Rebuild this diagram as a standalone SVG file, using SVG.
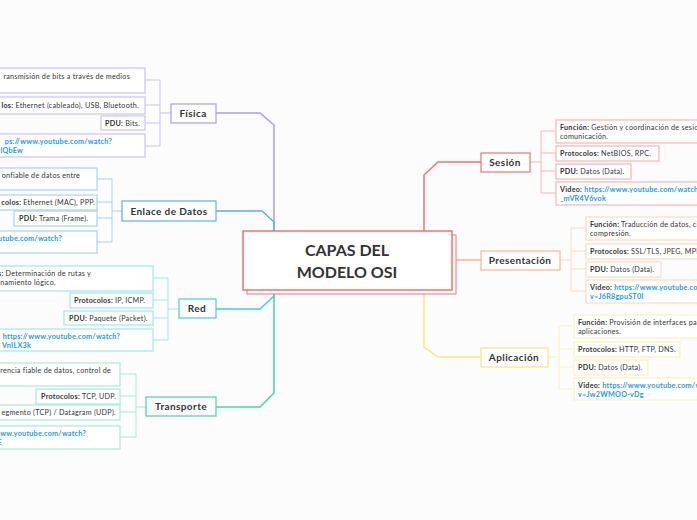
<svg xmlns="http://www.w3.org/2000/svg" width="697" height="520" viewBox="0 0 697 520">
<style>
text{font-family:Lato,"Open Sans",sans-serif;fill:#333}
.t{font-size:10px;font-weight:bold;letter-spacing:0.4px}
.l{font-size:7.2px;letter-spacing:0.25px}
.e{text-anchor:end}
.b{font-weight:bold}
.u{fill:#1a9ae0;font-weight:bold}
.box{fill:#fff;stroke-width:1.2}
.c{fill:none;stroke-width:1.5}
.lc{fill:none;stroke-width:1}
</style>
<rect width="697" height="520" fill="#fcfcfc"/>
<g id="connectors">
<path class="c" stroke="#a89cf5" d="M274,231V125L260,113H216"/>
<path class="c" stroke="#5aaef0" d="M274,231V222L262,211H216"/>
<path class="c" stroke="#3dcfdc" d="M274,290V296L260,309H216"/>
<path class="c" stroke="#3ed6a6" d="M274,290V393L260,407H216"/>
<path class="c" stroke="#f47070" d="M424,231V175L438,162H481"/>
<path class="c" stroke="#fbb58a" d="M452,260H481"/>
<path class="c" stroke="#f8e77a" d="M424,290V347L438,357H481"/>
<path class="lc" stroke="#c9c2fa" d="M171,113H160M160,80V146M145,80H160M145,105H160M145,123H160M145,146H160"/>
<path class="lc" stroke="#a6d2f7" d="M122,211H112M112,179V242M97,179H112M97,202H112M97,218H112M97,242H112"/>
<path class="lc" stroke="#9fe8ee" d="M179,309H168M168,278V340M153,278H168M153,300H168M153,318H168M153,340H168"/>
<path class="lc" stroke="#a5ecd4" d="M146,407H136M136,374V437M120,374H136M120,396H136M120,412H136M120,437H136"/>
<path class="lc" stroke="#f9b4b4" d="M530,162H541M541,131V193M541,131H556M541,153H556M541,171H556M541,193H556"/>
<path class="lc" stroke="#fcd9c2" d="M560,260H571M571,228V291M571,228H586M571,251H586M571,269H586M571,291H586"/>
<path class="lc" stroke="#fbf2b8" d="M548,357H559M559,326V389M559,326H574M559,349H574M559,367H574M559,389H574"/>
</g>
<g id="center">
<rect x="247" y="235" width="209" height="59" fill="#fff" stroke="#f47070" stroke-width="1"/>
<rect x="243" y="231" width="209" height="59" fill="#fff" stroke="#f47070" stroke-width="1.5"/>
<text x="347" y="256" text-anchor="middle" style="font-size:16px;font-weight:bold">CAPAS DEL</text>
<text x="347" y="278" text-anchor="middle" style="font-size:16px;font-weight:bold">MODELO OSI</text>
</g>
<g id="fisica">
<rect class="box" stroke="#a89cf5" x="171" y="104" width="45" height="19"/>
<text class="t" x="193" y="117" text-anchor="middle">Física</text>
<rect class="box" stroke="#c9c2fa" x="-5" y="68" width="150" height="25"/>
<text class="l e" x="130" y="79">ransmisión de bits a través de medios</text>
<rect class="box" stroke="#c9c2fa" x="-5" y="97" width="150" height="17"/>
<text class="l e" x="139" y="108"><tspan class="b">los:</tspan> Ethernet (cableado), USB, Bluetooth.</text>
<rect class="box" stroke="#c9c2fa" x="101" y="116" width="44" height="14"/>
<text class="l" x="105" y="126"><tspan class="b">PDU:</tspan> Bits.</text>
<rect class="box" stroke="#c9c2fa" x="-5" y="134" width="150" height="23"/>
<text class="l u e" x="112" y="144">ps://www.youtube.com/watch?</text>
<text class="l u e" x="23" y="153">lQbEw</text>
</g>
<g id="enlace">
<rect class="box" stroke="#5aaef0" x="122" y="201" width="94" height="20"/>
<text class="t" x="169" y="215" text-anchor="middle">Enlace de Datos</text>
<rect class="box" stroke="#a6d2f7" x="-5" y="168" width="102" height="22"/>
<text class="l e" x="80" y="178">onfiable de datos entre</text>
<rect class="box" stroke="#a6d2f7" x="-5" y="195" width="102" height="15"/>
<text class="l e" x="95" y="205"><tspan class="b">colos:</tspan> Ethernet (MAC), PPP.</text>
<rect class="box" stroke="#a6d2f7" x="14" y="211" width="83" height="15"/>
<text class="l" x="19" y="221"><tspan class="b">PDU:</tspan> Trama (Frame).</text>
<rect class="box" stroke="#a6d2f7" x="-5" y="231" width="102" height="22"/>
<text class="l u e" x="62" y="241">utube.com/watch?</text>
</g>
<g id="red">
<rect class="box" stroke="#3dcfdc" x="179" y="299" width="37" height="19"/>
<text class="t" x="197" y="312" text-anchor="middle">Red</text>
<rect class="box" stroke="#9fe8ee" x="-5" y="266" width="158" height="25"/>
<text class="l e" x="91" y="276"><tspan class="b">s:</tspan> Determinación de rutas y</text>
<text class="l e" x="56" y="285">namiento lógico.</text>
<rect class="box" stroke="#9fe8ee" x="70" y="293" width="83" height="15"/>
<text class="l" x="74" y="303"><tspan class="b">Protocolos:</tspan> IP, ICMP.</text>
<rect class="box" stroke="#9fe8ee" x="64" y="311" width="89" height="14"/>
<text class="l" x="69" y="321"><tspan class="b">PDU:</tspan> Paquete (Packet).</text>
<rect class="box" stroke="#9fe8ee" x="-5" y="329" width="158" height="22"/>
<text class="l u e" x="120" y="339">https://www.youtube.com/watch?</text>
<text class="l u e" x="31" y="348">VnILX3k</text>
</g>
<g id="transporte">
<rect class="box" stroke="#3ed6a6" x="146" y="397" width="70" height="19"/>
<text class="t" x="181" y="410" text-anchor="middle">Transporte</text>
<rect class="box" stroke="#a5ecd4" x="-5" y="363" width="125" height="23"/>
<text class="l e" x="111" y="373">rencia fiable de datos, control de</text>
<rect class="box" stroke="#a5ecd4" x="36" y="389" width="84" height="15"/>
<text class="l" x="41" y="399"><tspan class="b">Protocolos:</tspan> TCP, UDP.</text>
<rect class="box" stroke="#a5ecd4" x="-5" y="405" width="125" height="15"/>
<text class="l e" x="116" y="415">egmento (TCP) / Datagram (UDP).</text>
<rect class="box" stroke="#a5ecd4" x="-5" y="426" width="125" height="23"/>
<text class="l u e" x="86" y="436">ww.youtube.com/watch?</text>
<text class="l u e" x="2" y="445">E</text>
</g>
<g id="sesion">
<rect class="box" stroke="#f47070" x="481" y="153" width="49" height="19"/>
<text class="t" x="505" y="166" text-anchor="middle">Sesión</text>
<rect class="box" stroke="#f9b4b4" x="556" y="120" width="150" height="23"/>
<text class="l" x="560" y="130"><tspan class="b">Función:</tspan> Gestión y coordinación de sesiones de</text>
<text class="l" x="560" y="139">comunicación.</text>
<rect class="box" stroke="#f9b4b4" x="556" y="146" width="103" height="15"/>
<text class="l" x="560" y="156"><tspan class="b">Protocolos:</tspan> NetBIOS, RPC.</text>
<rect class="box" stroke="#f9b4b4" x="556" y="164" width="75" height="15"/>
<text class="l" x="560" y="174"><tspan class="b">PDU:</tspan> Datos (Data).</text>
<rect class="box" stroke="#f9b4b4" x="556" y="182" width="150" height="23"/>
<text class="l" x="560" y="192"><tspan class="b">Video:</tspan> <tspan class="u">https://www.youtube.com/watch?v=</tspan></text>
<text class="l u" x="560" y="201">_mVR4V6vok</text>
</g>
<g id="presentacion">
<rect class="box" stroke="#fbb58a" x="481" y="251" width="79" height="19"/>
<text class="t" x="520" y="264" text-anchor="middle">Presentación</text>
<rect class="box" stroke="#fcd9c2" x="586" y="217" width="120" height="23"/>
<text class="l" x="590" y="227"><tspan class="b">Función:</tspan> Traducción de datos, cifrado y</text>
<text class="l" x="590" y="236">compresión.</text>
<rect class="box" stroke="#fcd9c2" x="586" y="244" width="120" height="15"/>
<text class="l" x="590" y="254"><tspan class="b">Protocolos:</tspan> SSL/TLS, JPEG, MPEG.</text>
<rect class="box" stroke="#fcd9c2" x="586" y="262" width="75" height="15"/>
<text class="l" x="590" y="272"><tspan class="b">PDU:</tspan> Datos (Data).</text>
<rect class="box" stroke="#fcd9c2" x="586" y="280" width="120" height="23"/>
<text class="l" x="590" y="290"><tspan class="b">Video:</tspan> <tspan class="u">https://www.youtube.com/watch?</tspan></text>
<text class="l u" x="590" y="299">v=J6R8gpuST0I</text>
</g>
<g id="aplicacion">
<rect class="box" stroke="#f8e77a" x="481" y="348" width="67" height="19"/>
<text class="t" x="514" y="361" text-anchor="middle">Aplicación</text>
<rect class="box" stroke="#fbf2b8" x="574" y="315" width="130" height="23"/>
<text class="l" x="578" y="325"><tspan class="b">Función:</tspan> Provisión de interfaces para</text>
<text class="l" x="578" y="334">aplicaciones.</text>
<rect class="box" stroke="#fbf2b8" x="574" y="342" width="106" height="15"/>
<text class="l" x="578" y="352"><tspan class="b">Protocolos:</tspan> HTTP, FTP, DNS.</text>
<rect class="box" stroke="#fbf2b8" x="574" y="360" width="74" height="15"/>
<text class="l" x="578" y="370"><tspan class="b">PDU:</tspan> Datos (Data).</text>
<rect class="box" stroke="#fbf2b8" x="574" y="378" width="130" height="22"/>
<text class="l" x="578" y="388"><tspan class="b">Video:</tspan> <tspan class="u">https://www.youtube.com/watch?</tspan></text>
<text class="l u" x="578" y="397">v=Jw2WMOO-vDg</text>
</g>
</svg>
